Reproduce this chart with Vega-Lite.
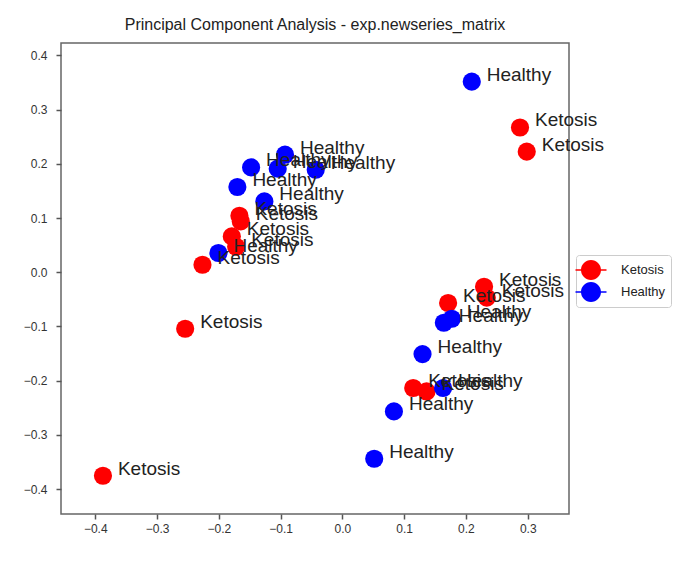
{
  "$schema": "https://vega.github.io/schema/vega-lite/v6.json",
  "width": 508,
  "height": 471,
  "autosize": "none",
  "padding": {"left": 61, "top": 43, "right": 124, "bottom": 48},
  "background": "white",
  "config": {
    "font": "Liberation Sans",
    "view": {"stroke": "#666666", "strokeWidth": 1.5}
  },
  "title": {
    "text": "Principal Component Analysis - exp.newseries_matrix",
    "fontSize": 16,
    "fontWeight": "normal",
    "color": "#222222",
    "anchor": "middle",
    "offset": 10
  },
  "data": {
    "values": [
      {"group": "Ketosis", "pc1": 0.2875, "pc2": 0.267},
      {"group": "Ketosis", "pc1": 0.2984, "pc2": 0.2224},
      {"group": "Ketosis", "pc1": -0.1667, "pc2": 0.1042},
      {"group": "Ketosis", "pc1": -0.1645, "pc2": 0.0937},
      {"group": "Ketosis", "pc1": -0.179, "pc2": 0.066},
      {"group": "Ketosis", "pc1": -0.172, "pc2": 0.047},
      {"group": "Ketosis", "pc1": -0.2265, "pc2": 0.0138},
      {"group": "Ketosis", "pc1": -0.2545, "pc2": -0.1043},
      {"group": "Ketosis", "pc1": -0.3876, "pc2": -0.3755},
      {"group": "Ketosis", "pc1": 0.2293, "pc2": -0.0268},
      {"group": "Ketosis", "pc1": 0.2337, "pc2": -0.047},
      {"group": "Ketosis", "pc1": 0.1711, "pc2": -0.0568},
      {"group": "Ketosis", "pc1": 0.1146, "pc2": -0.2137},
      {"group": "Ketosis", "pc1": 0.1362, "pc2": -0.22},
      {"group": "Healthy", "pc1": 0.2094, "pc2": 0.3515},
      {"group": "Healthy", "pc1": -0.0929, "pc2": 0.2168},
      {"group": "Healthy", "pc1": -0.1478, "pc2": 0.1934},
      {"group": "Healthy", "pc1": -0.1047, "pc2": 0.191},
      {"group": "Healthy", "pc1": -0.0432, "pc2": 0.1891},
      {"group": "Healthy", "pc1": -0.17, "pc2": 0.1572},
      {"group": "Healthy", "pc1": -0.1263, "pc2": 0.1306},
      {"group": "Healthy", "pc1": -0.2007, "pc2": 0.0354},
      {"group": "Healthy", "pc1": 0.1642, "pc2": -0.0932},
      {"group": "Healthy", "pc1": 0.1771, "pc2": -0.0858},
      {"group": "Healthy", "pc1": 0.1297, "pc2": -0.151},
      {"group": "Healthy", "pc1": 0.163, "pc2": -0.2137},
      {"group": "Healthy", "pc1": 0.0834, "pc2": -0.2568},
      {"group": "Healthy", "pc1": 0.0515, "pc2": -0.3441}
    ]
  },
  "encoding": {
    "x": {
      "field": "pc1",
      "type": "quantitative",
      "scale": {"domain": [-0.4555, 0.3668], "nice": false, "zero": false},
      "axis": {
        "title": null,
        "grid": false,
        "domain": false,
        "values": [-0.4, -0.3, -0.2, -0.1, 0, 0.1, 0.2, 0.3],
        "format": ".1f",
        "tickSize": 5,
        "tickWidth": 1.5,
        "tickColor": "#555555",
        "labelFontSize": 12,
        "labelColor": "#333333",
        "labelPadding": 4
      }
    },
    "y": {
      "field": "pc2",
      "type": "quantitative",
      "scale": {"domain": [-0.4461, 0.4229], "nice": false, "zero": false},
      "axis": {
        "title": null,
        "grid": false,
        "domain": false,
        "values": [-0.4, -0.3, -0.2, -0.1, 0, 0.1, 0.2, 0.3, 0.4],
        "format": ".1f",
        "tickSize": 5,
        "tickWidth": 1.5,
        "tickColor": "#555555",
        "labelFontSize": 12,
        "labelColor": "#333333",
        "labelPadding": 9
      }
    }
  },
  "layer": [
    {
      "mark": {"type": "point", "filled": true, "opacity": 1, "size": 330},
      "encoding": {
        "color": {
          "field": "group",
          "type": "nominal",
          "scale": {"domain": ["Ketosis", "Healthy"], "range": ["#ff0000", "#0000ff"]},
          "legend": {
            "title": null,
            "orient": "none",
            "legendX": 515,
            "legendY": 212,
            "symbolType": "M-1.55,-0.07H1.55V0.07H-1.55Z M1,0A1,1,0,1,1,-1,0A1,1,0,1,1,1,0Z",
            "symbolSize": 400,
            "symbolOpacity": 1,
            "symbolStrokeWidth": 0,
            "labelFontSize": 13,
            "labelColor": "#222222",
            "labelOffset": 20,
            "rowPadding": 2,
            "padding": 5,
            "strokeColor": "#cccccc",
            "fillColor": "white",
            "cornerRadius": 3
          }
        }
      }
    },
    {
      "mark": {
        "type": "text",
        "align": "left",
        "baseline": "middle",
        "dx": 15,
        "dy": -7,
        "fontSize": 19,
        "color": "#222222"
      },
      "encoding": {"text": {"field": "group"}}
    }
  ]
}
